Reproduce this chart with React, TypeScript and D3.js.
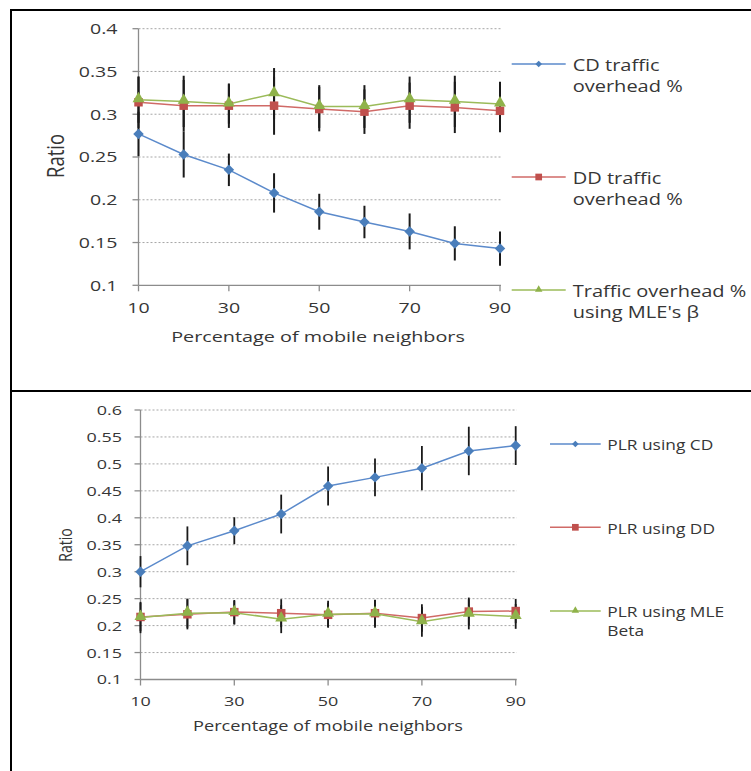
import React, { useEffect } from "react";
import * as d3 from "d3";

// ---------- data ----------
const xValues = [10, 20, 30, 40, 50, 60, 70, 80, 90];
const xTickValues = [10, 30, 50, 70, 90];

// top chart: traffic overhead
const topYTicks = [0.1, 0.15, 0.2, 0.25, 0.3, 0.35, 0.4];
const cdOverhead = [0.277, 0.253, 0.235, 0.208, 0.186, 0.174, 0.163, 0.149, 0.143];
const cdOverheadErr = [0.026, 0.027, 0.019, 0.023, 0.021, 0.019, 0.021, 0.020, 0.020];
const ddOverhead = [0.314, 0.310, 0.310, 0.310, 0.306, 0.303, 0.310, 0.308, 0.304];
const ddOverheadErr = [0.030, 0.030, 0.026, 0.034, 0.026, 0.026, 0.027, 0.030, 0.025];
const mleOverhead = [0.317, 0.315, 0.312, 0.324, 0.309, 0.309, 0.317, 0.315, 0.312];
const mleOverheadErr = [0.027, 0.030, 0.023, 0.030, 0.025, 0.025, 0.027, 0.030, 0.026];
const topLegend = [
  ["CD traffic", "overhead %"],
  ["DD traffic", "overhead %"],
  ["Traffic overhead %", "using MLE's \u03B2"],
];

// bottom chart: PLR
const bottomYTicks = [0.1, 0.15, 0.2, 0.25, 0.3, 0.35, 0.4, 0.45, 0.5, 0.55, 0.6];
const cdPlr = [0.300, 0.348, 0.376, 0.407, 0.459, 0.475, 0.492, 0.524, 0.534];
const cdPlrErr = [0.029, 0.036, 0.025, 0.036, 0.036, 0.035, 0.041, 0.045, 0.036];
const ddPlr = [0.216, 0.221, 0.225, 0.223, 0.220, 0.223, 0.214, 0.226, 0.227];
const ddPlrErr = [0.0265, 0.028, 0.0225, 0.026, 0.0225, 0.0245, 0.0255, 0.026, 0.0225];
const mlePlr = [0.215, 0.223, 0.224, 0.212, 0.221, 0.222, 0.207, 0.221, 0.217];
const mlePlrErr = [0.029, 0.027, 0.022, 0.026, 0.025, 0.026, 0.0276, 0.028, 0.023];
const bottomLegend = [["PLR using CD"], ["PLR using DD"], ["PLR using MLE", "Beta"]];

const xTitle = "Percentage of mobile neighbors";
const yTitle = "Ratio";

// ---------- style ----------
const W = 751;
const H = 771;
const FONT = "'Open Sans', sans-serif";
const TEXT = "#363636";
const COLORS = {
  blue: { line: "#5B8ACB", marker: "#4A7EBB" },
  red: { line: "#D06A67", marker: "#C0504D" },
  green: { line: "#9BBB59", marker: "#8FB24A" },
};

function Txt({ x, y, size, sx = 1.3, anchor = "middle", rotate = 0, children }: any) {
  const scale = rotate ? `scale(1,${sx})` : `scale(${sx},1)`;
  return (
    <text
      transform={`translate(${x},${y}) rotate(${rotate}) ${scale}`}
      textAnchor={anchor}
      dominantBaseline="central"
      fontSize={size}
      fontFamily={FONT}
      fill={TEXT}
    >
      {children}
    </text>
  );
}

function markerPath(kind: string, big: boolean) {
  if (kind === "diamond") return d3.symbol(d3.symbolSquare, big ? 55 : 22)() as string;
  if (kind === "square") return d3.symbol(d3.symbolSquare, big ? 72 : 45)() as string;
  return d3.symbol(d3.symbolTriangle, big ? 62 : 24)() as string;
}

function Marker({ kind, x, y, fill, big = true }: any) {
  const rot = kind === "diamond" ? 45 : 0;
  const dy = kind === "triangle" ? (big ? -1 : -0.5) : 0;
  return <path d={markerPath(kind, big)} transform={`translate(${x},${y + dy}) rotate(${rot})`} fill={fill} />;
}

function Panel({ cfg }: any) {
  const { x, y, yTicks, series, tickSize, tickSx, labelX, xLabelY, xTitleY, xTitleX, xTitleSize, xTitleSx, yTitleX, yTitleY, yTitleSize, yTitleSx, legend, errW } = cfg;
  const [x0, x1] = x.range();
  const [yb, yt] = y.range();
  const line = d3.line<number>().x((_, i) => x(xValues[i])).y((d) => y(d));
  return (
    <g>
      {yTicks.slice(1).map((t: number) => (
        <line key={"g" + t} x1={x0} x2={x1 + 1} y1={y(t)} y2={y(t)} stroke="#A6A6A6" strokeWidth={1} strokeDasharray="2,2" />
      ))}
      {/* axes */}
      <line x1={x0} x2={x0} y1={yt} y2={yb} stroke="#8C8C8C" strokeWidth={1.3} />
      <line x1={x0} x2={x1 + 1} y1={yb} y2={yb} stroke="#8C8C8C" strokeWidth={1.3} />
      {yTicks.map((t: number) => (
        <line key={"yt" + t} x1={x0 - 6} x2={x0} y1={y(t)} y2={y(t)} stroke="#8C8C8C" strokeWidth={1.3} />
      ))}
      {xTickValues.map((t) => (
        <line key={"xt" + t} x1={x(t)} x2={x(t)} y1={yb} y2={yb + 6} stroke="#8C8C8C" strokeWidth={1.3} />
      ))}
      {yTicks.map((t: number) => (
        <Txt key={"yl" + t} x={labelX} y={y(t)} size={tickSize} sx={tickSx} anchor="end">
          {String(+t.toFixed(2))}
        </Txt>
      ))}
      {xTickValues.map((t) => (
        <Txt key={"xl" + t} x={x(t)} y={xLabelY} size={tickSize} sx={tickSx}>
          {t}
        </Txt>
      ))}
      <Txt x={xTitleX} y={xTitleY} size={xTitleSize} sx={xTitleSx}>
        {xTitle}
      </Txt>
      <Txt x={yTitleX} y={yTitleY} size={yTitleSize} sx={yTitleSx} rotate={-90}>
        {yTitle}
      </Txt>
      {/* error bars */}
      {series.map((s: any, si: number) =>
        s.values.map((v: number, i: number) => (
          <line
            key={"e" + si + "_" + i}
            x1={x(xValues[i])}
            x2={x(xValues[i])}
            y1={y(v + s.err[i])}
            y2={y(v - s.err[i])}
            stroke="#1A1A1A"
            strokeWidth={errW}
          />
        ))
      )}
      {/* lines */}
      {series.map((s: any, si: number) => (
        <path key={"l" + si} d={line(s.values) as string} fill="none" stroke={s.color.line} strokeWidth={1.5} />
      ))}
      {/* markers */}
      {series.map((s: any, si: number) =>
        s.values.map((v: number, i: number) => (
          <Marker key={"m" + si + "_" + i} kind={s.marker} x={x(xValues[i])} y={y(v)} fill={s.color.marker} />
        ))
      )}
      {/* legend */}
      {series.map((s: any, si: number) => {
        const L = legend;
        const ly = L.ys[si];
        return (
          <g key={"lg" + si}>
            <line x1={L.x0} x2={L.x1} y1={ly} y2={ly} stroke={s.color.line} strokeWidth={1.5} />
            <Marker kind={s.marker} x={(L.x0 + L.x1) / 2} y={ly} fill={s.color.marker} big={false} />
            {L.labels[si].map((t: string, k: number) => (
              <Txt key={k} x={L.tx} y={ly + 1 + k * L.lh} size={L.size} sx={L.sx} anchor="start">
                {t}
              </Txt>
            ))}
          </g>
        );
      })}
    </g>
  );
}

export default function App() {
  useEffect(() => {
    document.body.style.margin = "0";
  }, []);

  const xTop = d3.scaleLinear().domain([10, 90]).range([138.5, 500]);
  const yTop = d3.scaleLinear().domain([0.1, 0.4]).range([285.3, 28.7]);
  const xBot = d3.scaleLinear().domain([10, 90]).range([140.5, 515.7]);
  const yBot = d3.scaleLinear().domain([0.1, 0.6]).range([679.5, 410]);

  const topCfg = {
    x: xTop,
    y: yTop,
    yTicks: topYTicks,
    tickSize: 14.5,
    tickSx: 1.35,
    labelX: 117.5,
    xLabelY: 308,
    xTitleX: 318,
    xTitleY: 336.5,
    xTitleSize: 15,
    xTitleSx: 1.32,
    yTitleX: 54,
    yTitleY: 156,
    yTitleSize: 18.5,
    yTitleSx: 1.3,
    errW: 2,
    series: [
      { values: cdOverhead, err: cdOverheadErr, color: COLORS.blue, marker: "diamond" },
      { values: ddOverhead, err: ddOverheadErr, color: COLORS.red, marker: "square" },
      { values: mleOverhead, err: mleOverheadErr, color: COLORS.green, marker: "triangle" },
    ],
    legend: { x0: 511.7, x1: 565.7, tx: 572.7, ys: [64, 177, 290], lh: 20.5, size: 16, sx: 1.25, labels: topLegend },
  };

  const botCfg = {
    x: xBot,
    y: yBot,
    yTicks: bottomYTicks,
    tickSize: 13,
    tickSx: 1.38,
    labelX: 122,
    xLabelY: 700.7,
    xTitleX: 328,
    xTitleY: 725.7,
    xTitleSize: 14,
    xTitleSx: 1.3,
    yTitleX: 65,
    yTitleY: 545,
    yTitleSize: 14,
    yTitleSx: 1.3,
    errW: 1.8,
    series: [
      { values: cdPlr, err: cdPlrErr, color: COLORS.blue, marker: "diamond" },
      { values: ddPlr, err: ddPlrErr, color: COLORS.red, marker: "square" },
      { values: mlePlr, err: mlePlrErr, color: COLORS.green, marker: "triangle" },
    ],
    legend: { x0: 550, x1: 600.7, tx: 607.3, ys: [444, 527.3, 611], lh: 18.3, size: 14, sx: 1.24, labels: bottomLegend },
  };

  return (
    <svg width={W} height={H} style={{ display: "block", background: "#fff" }}>
      <rect x={0} y={0} width={W} height={H} fill="#fff" />
      <line x1={10} x2={W} y1={10} y2={10} stroke="#000" strokeWidth={2} />
      <line x1={11} x2={11} y1={9} y2={H} stroke="#000" strokeWidth={2} />
      <line x1={10} x2={W} y1={391} y2={391} stroke="#000" strokeWidth={2} />
      <Panel cfg={topCfg} />
      <Panel cfg={botCfg} />
    </svg>
  );
}
